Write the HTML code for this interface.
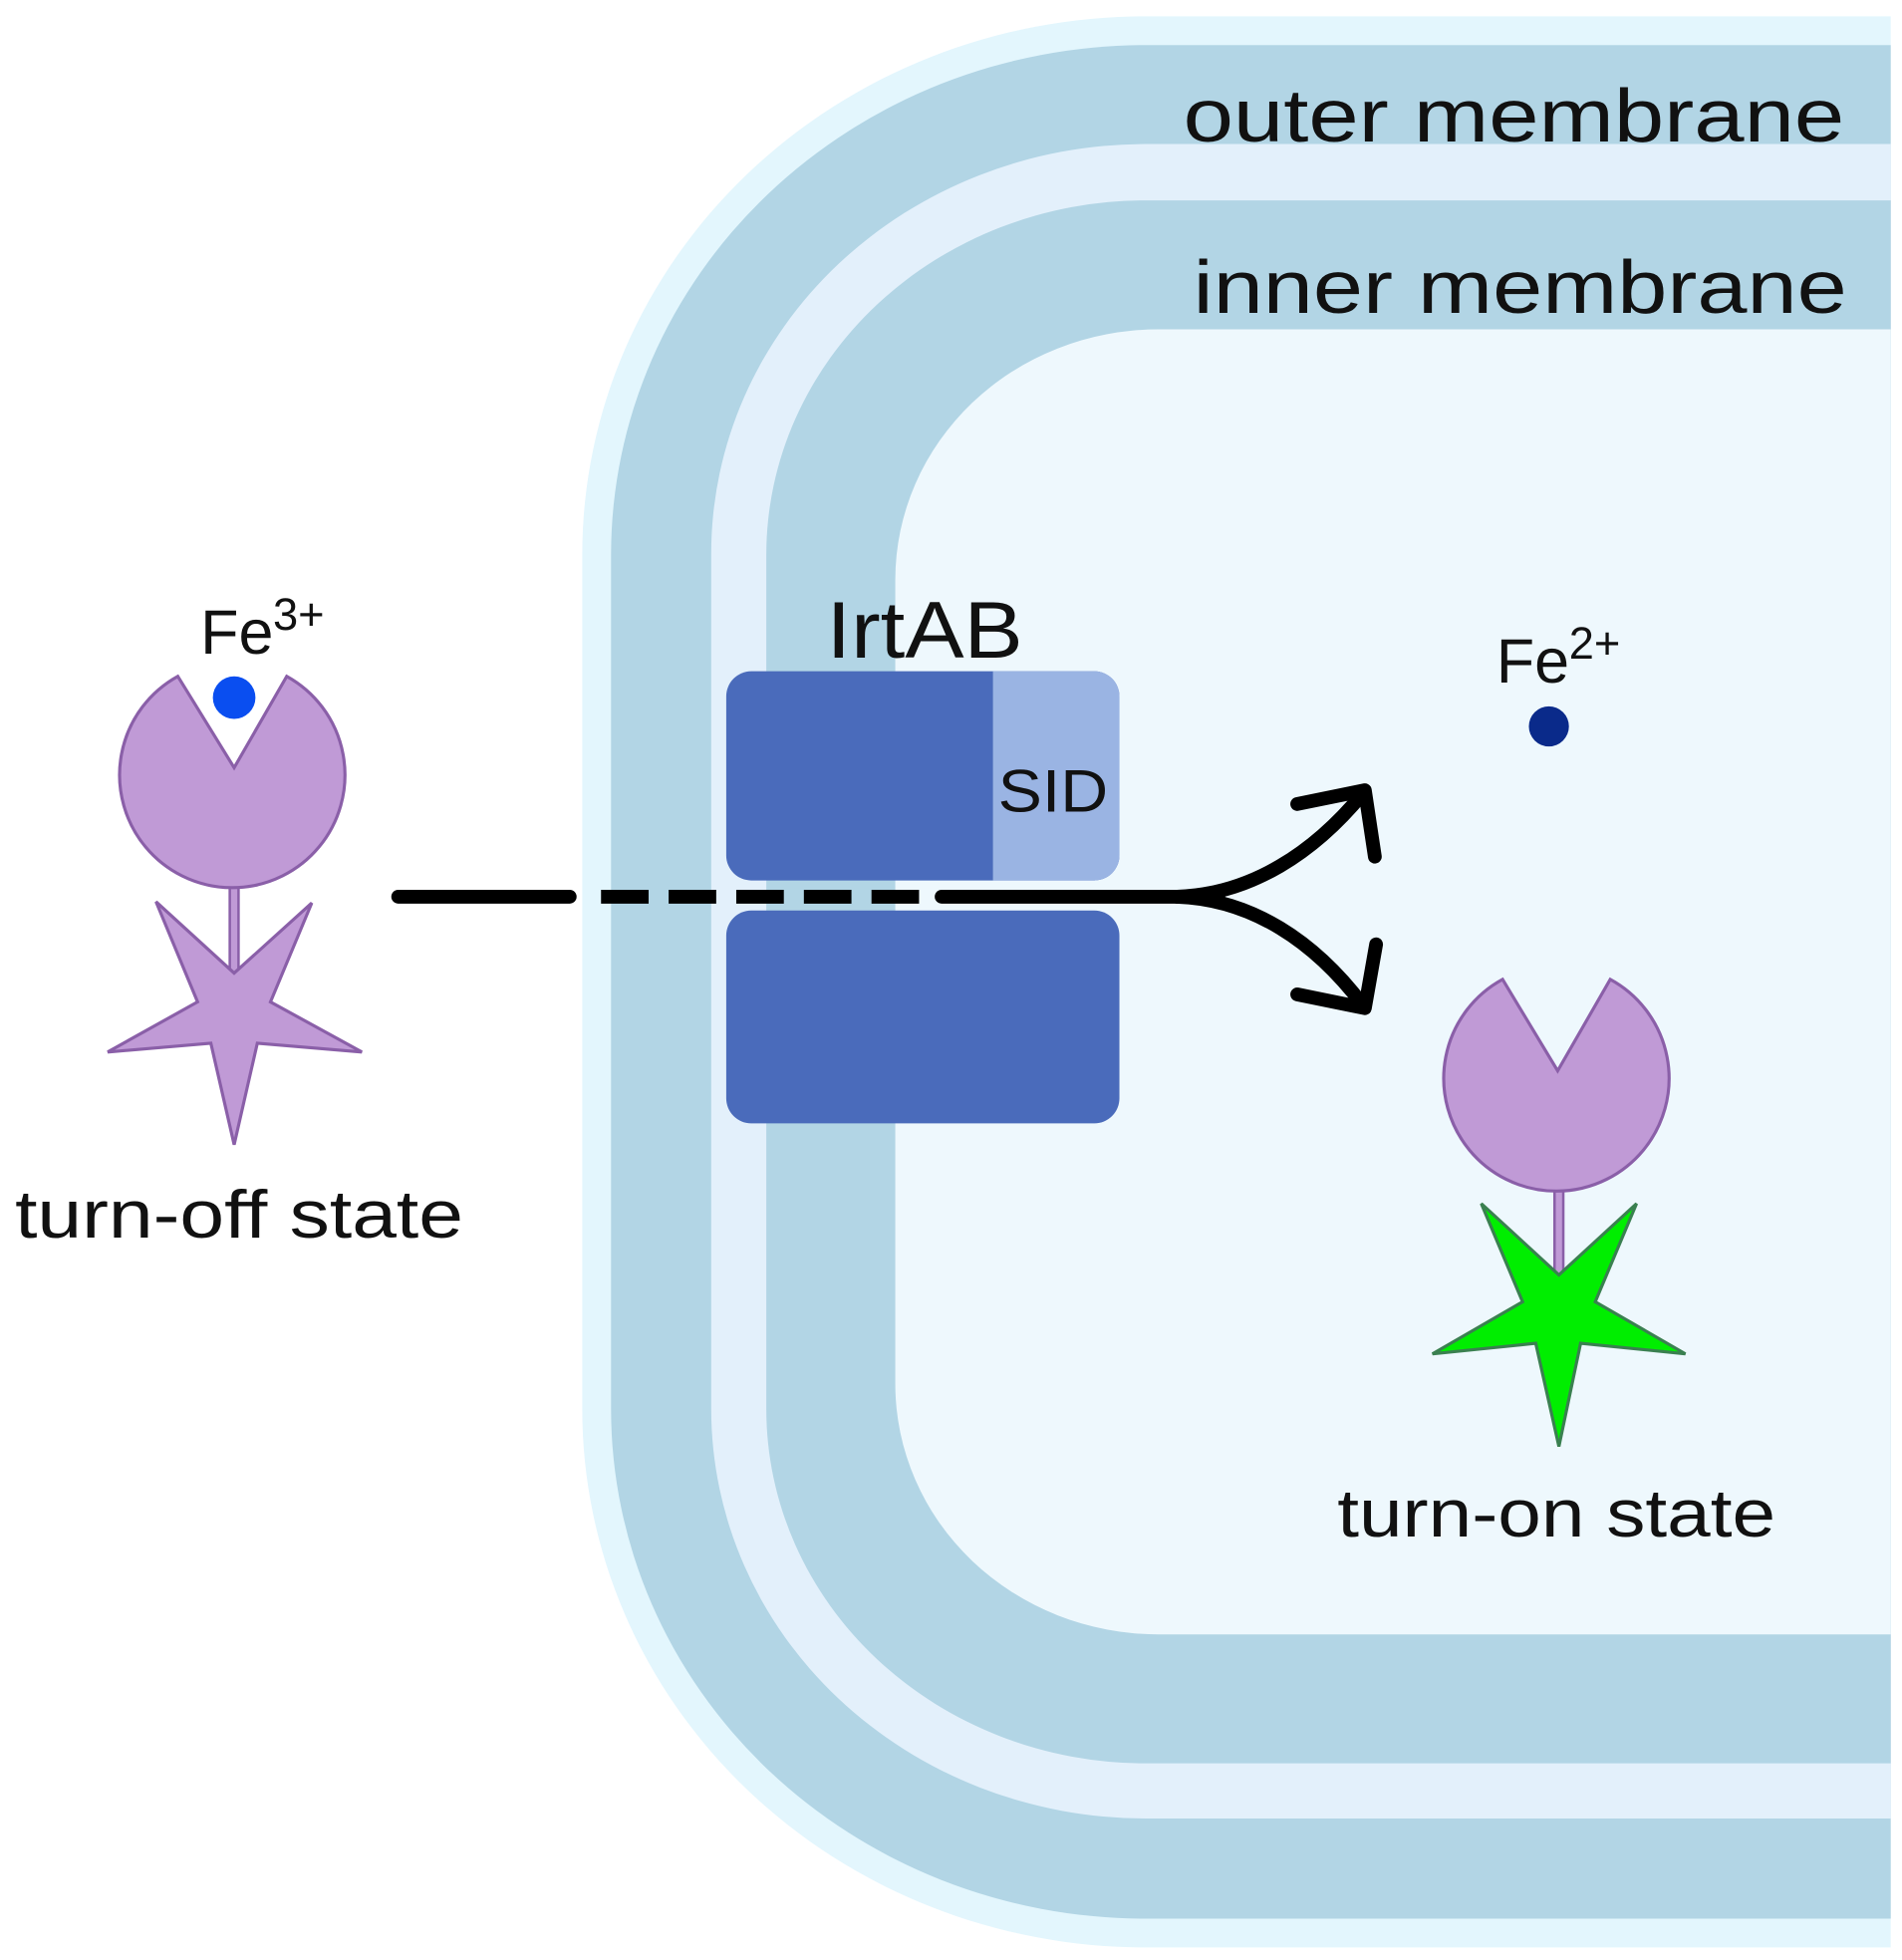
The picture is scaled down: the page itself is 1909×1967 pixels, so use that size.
<!DOCTYPE html>
<html><head><meta charset="utf-8"><style>
html,body{margin:0;padding:0;background:#fff;}
svg{display:block;}
text{font-family:"Liberation Sans",sans-serif;fill:#111;}
</style></head><body>
<svg width="1909" height="1967" viewBox="0 0 1519 1565" xmlns="http://www.w3.org/2000/svg" preserveAspectRatio="none">
<defs><clipPath id="c"><rect x="0" y="0" width="1510" height="1565"/></clipPath></defs>
<g clip-path="url(#c)">
<rect x="465" y="13" width="2400" height="1542" rx="450" ry="430" fill="#e3f6fd"/>
<rect x="488" y="36" width="2400" height="1496" rx="427" ry="407" fill="#b2d5e5"/>
<rect x="568" y="115" width="2400" height="1337" rx="347" ry="327" fill="#e3f0fb"/>
<rect x="612" y="160" width="2400" height="1248" rx="303" ry="283" fill="#b2d5e5"/>
<rect x="715" y="263" width="2400" height="1042" rx="210" ry="200" fill="#eef8fd"/>
</g>
<text x="945" y="113" font-size="60" textLength="528" lengthAdjust="spacingAndGlyphs">outer membrane</text>
<text x="953" y="250" font-size="60" textLength="522" lengthAdjust="spacingAndGlyphs">inner membrane</text>

<!-- IrtAB -->
<rect x="580" y="536" width="314" height="167" rx="20" fill="#4a6bbb"/>
<path d="M793 536 H874 a20 20 0 0 1 20 20 V683 a20 20 0 0 1 -20 20 H793 Z" fill="#9ab4e3"/>
<rect x="580" y="727" width="314" height="170" rx="20" fill="#4a6bbb"/>
<text x="660" y="525" font-size="64" textLength="157" lengthAdjust="spacingAndGlyphs">IrtAB</text>
<text x="797" y="648" font-size="48" textLength="88" lengthAdjust="spacingAndGlyphs">SID</text>

<!-- arrow -->
<g stroke="#000" stroke-width="11" stroke-linecap="round" fill="none" stroke-linejoin="round">
<line x1="318" y1="716" x2="455" y2="716"/>
<line x1="480" y1="716" x2="740" y2="716" stroke-dasharray="38 16" stroke-linecap="butt"/>
<line x1="752" y1="716" x2="973" y2="716"/>
<path d="M940 716 C1000 714 1050 680 1088 634"/>
<path d="M940 716 C1000 718 1050 752 1088 802"/>
<path d="M1036 642 L1090 631 L1098 684"/>
<path d="M1036 794 L1090 805 L1099 754"/>
</g>

<!-- left sensor -->
<line x1="187" y1="705" x2="187" y2="780" stroke="#8a5fa8" stroke-width="9"/>
<line x1="187" y1="705" x2="187" y2="780" stroke="#c09ad6" stroke-width="5"/>
<path d="M142 540 A90 90 0 1 0 229 540 L187 613 Z" fill="#c09ad6" stroke="#8a5fa8" stroke-width="2.5"/>
<circle cx="187" cy="557" r="17" fill="#0a4ef0"/>
<polygon points="187,777 249,721 216,800 289,840 205.5,833 187,914 168.4,833 86,840 157.8,800 124.6,720" fill="#c09ad6" stroke="#8a5fa8" stroke-width="2.5"/>
<text x="160" y="522" font-size="50">Fe</text>
<text x="218" y="503" font-size="36">3+</text>
<text x="12" y="988" font-size="54" textLength="358" lengthAdjust="spacingAndGlyphs">turn-off state</text>

<!-- right sensor -->
<line x1="1245" y1="949" x2="1245" y2="1020" stroke="#8a5fa8" stroke-width="9"/>
<line x1="1245" y1="949" x2="1245" y2="1020" stroke="#c09ad6" stroke-width="5"/>
<path d="M1200 782 A90 90 0 1 0 1286 782 L1244 855 Z" fill="#c09ad6" stroke="#8a5fa8" stroke-width="2.5"/>
<polygon points="1245,1018 1307,961 1274,1039.5 1346,1081 1262.3,1072.6 1245,1155 1226.5,1072.6 1144,1081 1216,1039.5 1183,961" fill="#00ee00" stroke="#3a8050" stroke-width="2.5"/>
<circle cx="1237" cy="580" r="16" fill="#0a2a8a"/>
<text x="1195" y="545" font-size="50">Fe</text>
<text x="1253" y="526" font-size="36">2+</text>
<text x="1068" y="1227" font-size="54" textLength="350" lengthAdjust="spacingAndGlyphs">turn-on state</text>
</svg>
</body></html>
